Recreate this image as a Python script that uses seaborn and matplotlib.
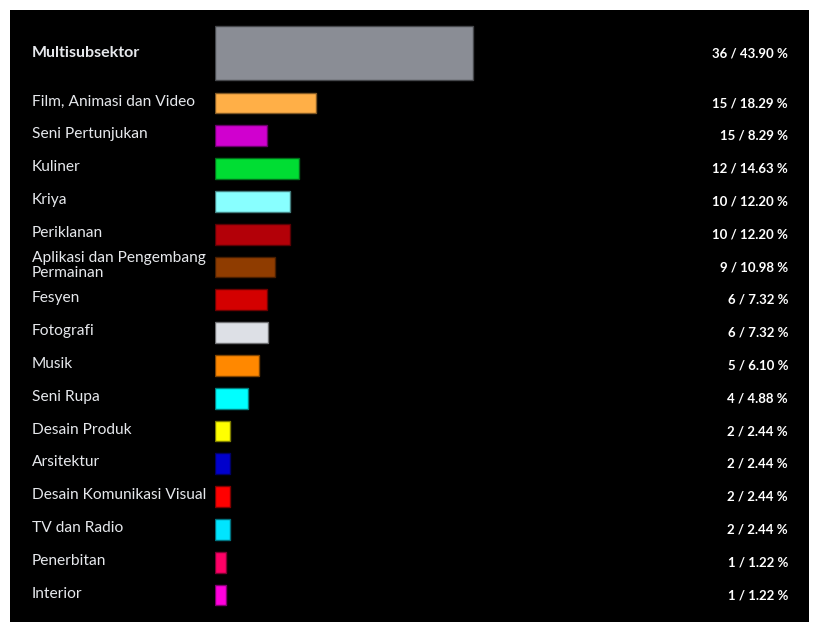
import matplotlib
matplotlib.use("Agg")
import matplotlib.pyplot as plt
import matplotlib.transforms as mtransforms
from matplotlib.patches import Rectangle
from matplotlib.colors import to_rgb
import seaborn as sns
import pandas as pd

# ---------------- data ----------------
categories = ["Multisubsektor", "Film, Animasi dan Video", "Seni Pertunjukan", "Kuliner",
              "Kriya", "Periklanan", "Aplikasi dan Pengembang\nPermainan", "Fesyen",
              "Fotografi", "Musik", "Seni Rupa", "Desain Produk", "Arsitektur",
              "Desain Komunikasi Visual", "TV dan Radio", "Penerbitan", "Interior"]
# bar lengths
bar_values = [36, 14.0, 7.2, 11.7, 10.45, 10.4, 8.3, 7.2, 7.35, 6.1, 4.5,
              2.0, 2.0, 2.0, 2.0, 1.4, 1.4]
counts = [36, 15, 15, 12, 10, 10, 9, 6, 6, 5, 4, 2, 2, 2, 2, 1, 1]
percents = ["43.90", "18.29", "8.29", "14.63", "12.20", "12.20", "10.98", "7.32",
            "7.32", "6.10", "4.88", "2.44", "2.44", "2.44", "2.44", "1.22", "1.22"]
colors = ["#8a8d95", "#ffaf47", "#d000cf", "#00dd33", "#88ffff", "#b30008", "#8f3c00",
          "#d40000", "#dde0e6", "#ff8800", "#00ffff", "#ffff00", "#0000cc", "#ff0000",
          "#00e5ff", "#ff0066", "#ff00dd"]

# ---------------- figure ----------------
W, H = 818, 622
sns.set_theme(style="white")
plt.rcParams["font.family"] = ["Lato", "DejaVu Sans"]
fig = plt.figure(figsize=(W / 100, H / 100), dpi=100, facecolor="white")
fig.patches.append(Rectangle((10 / W, 0), (809 - 10) / W, (H - 10) / H,
                             transform=fig.transFigure, facecolor="black",
                             edgecolor="none", zorder=-10))

x0_px, x1_px = 215.5, 808.0
px_per_unit = 258.0 / 36
xmax = (x1_px - x0_px) / px_per_unit

def fy(px_from_top):
    return (H - px_from_top) / H

ax_top = fig.add_axes([x0_px / W, fy(86.2), (x1_px - x0_px) / W, (86.2 - 19.8) / H])
ax_bot = fig.add_axes([x0_px / W, fy(611.4), (x1_px - x0_px) / W, (611.4 - 86.6) / H])

text_col = "#e6e8ec"

def draw(ax, cats, vals, cols, cnts, pcts, width, bold_first=False):
    df = pd.DataFrame({"cat": cats, "val": vals})
    sns.barplot(data=df, x="val", y="cat", hue="cat", palette=cols, legend=False,
                orient="h", width=width, saturation=1, ax=ax, linewidth=1.0)
    for p, c in zip(ax.patches, cols):
        r, g, b = to_rgb(c)
        p.set_edgecolor((r * 0.5, g * 0.5, b * 0.5))
    ax.set_xlim(0, xmax)
    ax.set_facecolor("none")
    for s in ax.spines.values():
        s.set_visible(False)
    ax.set_xticks([]); ax.set_yticks([])
    ax.set_xlabel(""); ax.set_ylabel("")
    tr_label = mtransforms.blended_transform_factory(fig.transFigure, ax.transData)
    tr_label_up = tr_label + mtransforms.ScaledTranslation(0, 1.5 / 100, fig.dpi_scale_trans)
    for i, (c, n, pc) in enumerate(zip(cats, cnts, pcts)):
        ax.text(32 / W, i, c, transform=tr_label if bold_first else tr_label_up,
                ha="left", va="center",
                color=text_col, fontsize=11.5 if bold_first else 11.2, linespacing=1.05,
                fontweight="bold" if bold_first else "normal", clip_on=False)
        ax.text(788 / W, i, f"{n} / {pc} %", transform=tr_label, ha="right",
                va="center", color="white", fontsize=9.5, fontweight="bold",
                clip_on=False)

draw(ax_top, categories[:1], bar_values[:1], colors[:1], counts[:1], percents[:1],
     0.8, bold_first=True)
draw(ax_bot, categories[1:], bar_values[1:], colors[1:], counts[1:], percents[1:],
     0.64)

fig.savefig("out.png", dpi=100, facecolor="white")
